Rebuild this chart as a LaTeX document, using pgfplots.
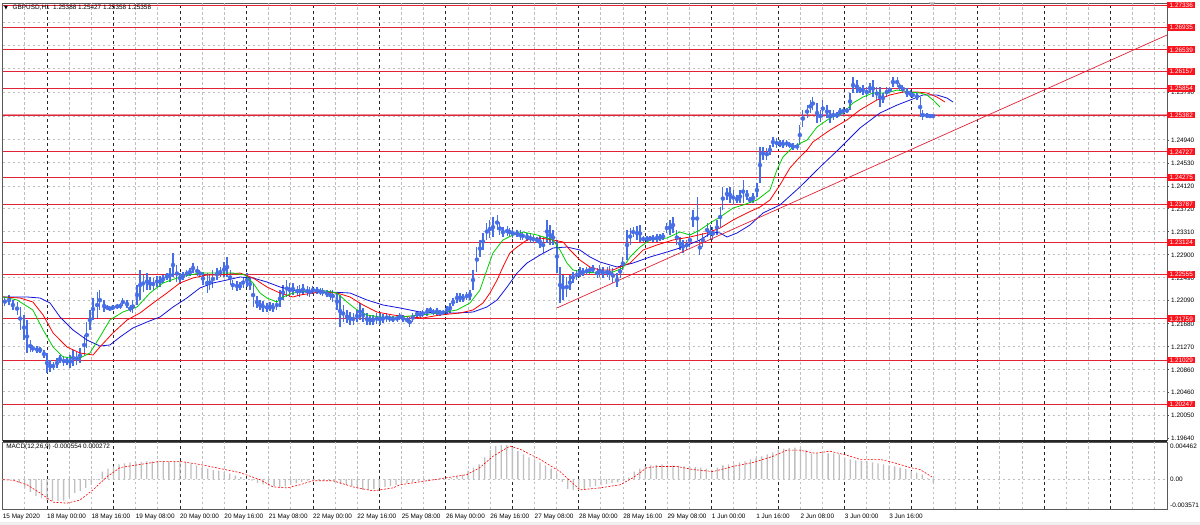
\documentclass[border=0pt]{standalone}
\usepackage{pgfplots}
\usepackage{pgfplotstable}
\pgfplotsset{compat=1.18}
\usepackage{fontspec}
\setmainfont{Liberation Sans}
\newfontfamily\dejavu{DejaVu Sans}
\newcommand\lbl{\fontsize{6.4}{7}\selectfont}
\definecolor{cndl}{RGB}{70,110,230}
\definecolor{lips}{RGB}{0,205,0}
\definecolor{teeth}{RGB}{255,0,0}
\definecolor{jaw}{RGB}{20,20,220}
\definecolor{hl}{RGB}{225,35,55}
\definecolor{lblred}{RGB}{250,20,30}
\definecolor{bidl}{RGB}{238,140,150}
\tikzset{
  gridg/.style={draw=gray!50, line width=1pt, dash pattern=on 2.5pt off 2.5pt},
  gridk/.style={draw=black!85, line width=0.8pt, dash pattern=on 3pt off 3pt},
}

\pgfplotstableread{
b hi lo
-15.2 1.22148 1.21988
-13.7 1.22183 1.22006
-12.3 1.22095 1.21917
-10.8 1.22059 1.21828
-9.7 1.21970 1.21562
-8.3 1.21828 1.21384
-7.2 1.21739 1.21153
-6.1 1.21384 1.21171
-5.1 1.21295 1.21171
-3.6 1.21277 1.21153
-2.5 1.21260 1.21153
-1.1 1.21206 1.21064
0 1.21153 1.20798
1.1 1.21029 1.20815
2.2 1.20993 1.20851
3.6 1.21064 1.20886
4.7 1.21117 1.20975
6.1 1.21100 1.20922
7.2 1.21082 1.20940
8.3 1.21117 1.20886
9.4 1.21206 1.20922
10.8 1.21171 1.20940
11.9 1.21242 1.20975
13.4 1.21473 1.21117
14.4 1.21704 1.21242
15.5 1.21917 1.21562
16.6 1.22130 1.21739
18.1 1.22237 1.21775
19.1 1.22272 1.21917
20.6 1.22095 1.21881
21.7 1.22006 1.21917
22.7 1.21988 1.21899
23.8 1.22006 1.21917
25.3 1.22024 1.21935
26.4 1.22041 1.21935
27.4 1.22130 1.21988
28.9 1.22095 1.21953
30.0 1.22006 1.21881
31.0 1.22095 1.21864
32.5 1.22361 1.22006
33.6 1.22628 1.22095
34.7 1.22539 1.22237
36.1 1.22574 1.22272
37.2 1.22503 1.22272
38.3 1.22486 1.22272
39.7 1.22521 1.22326
40.8 1.22521 1.22326
41.9 1.22539 1.22397
43.3 1.22574 1.22450
44.4 1.22663 1.22414
45.5 1.22930 1.22503
46.9 1.22717 1.22414
48.0 1.22574 1.22397
49.1 1.22592 1.22450
50.5 1.22628 1.22503
51.6 1.22663 1.22521
52.7 1.22752 1.22574
54.2 1.22699 1.22521
55.2 1.22628 1.22503
56.3 1.22592 1.22361
57.8 1.22574 1.22219
58.8 1.22539 1.22272
59.9 1.22628 1.22308
61.4 1.22663 1.22450
62.5 1.22681 1.22503
63.9 1.22770 1.22503
65.0 1.22859 1.22503
66.1 1.22628 1.22361
67.1 1.22450 1.22272
68.6 1.22432 1.22255
69.7 1.22414 1.22272
70.8 1.22503 1.22308
72.2 1.22574 1.22326
73.3 1.22486 1.22272
74.4 1.22397 1.21970
75.8 1.22166 1.21953
76.9 1.22095 1.21917
78.0 1.22077 1.21881
79.4 1.22041 1.21881
80.5 1.22059 1.21899
81.6 1.22041 1.21881
83.0 1.22095 1.21917
84.1 1.22272 1.21970
85.2 1.22361 1.22095
86.6 1.22450 1.22148
87.7 1.22397 1.22148
88.8 1.22397 1.22183
90.3 1.22343 1.22166
91.3 1.22361 1.22148
92.4 1.22379 1.22183
93.9 1.22343 1.22166
94.9 1.22326 1.22148
96.0 1.22343 1.22201
97.5 1.22326 1.22201
98.6 1.22308 1.22183
99.6 1.22308 1.22166
101.1 1.22272 1.22148
102.2 1.22272 1.22095
103.2 1.22272 1.22059
104.7 1.22219 1.21917
105.8 1.22183 1.21615
106.9 1.22006 1.21704
108.3 1.21917 1.21686
109.4 1.21881 1.21650
110.5 1.21864 1.21650
111.9 1.21917 1.21704
113.0 1.22041 1.21739
114.1 1.21953 1.21704
115.5 1.21864 1.21650
116.6 1.21828 1.21650
117.7 1.21828 1.21650
119.1 1.21864 1.21668
120.2 1.21864 1.21650
121.3 1.21846 1.21686
122.7 1.21864 1.21704
123.8 1.21828 1.21704
124.9 1.21810 1.21704
126.4 1.21828 1.21704
127.4 1.21864 1.21739
128.5 1.21828 1.21704
130.0 1.21793 1.21686
131.0 1.21793 1.21615
132.1 1.21864 1.21704
133.6 1.21899 1.21793
134.7 1.21899 1.21775
135.7 1.21917 1.21793
137.2 1.21953 1.21810
138.3 1.21970 1.21864
139.4 1.21935 1.21828
140.8 1.21953 1.21828
141.9 1.21917 1.21810
143.0 1.21917 1.21828
144.4 1.21988 1.21846
145.5 1.22041 1.21864
146.6 1.22130 1.21988
148.0 1.22219 1.22041
149.1 1.22219 1.22059
150.2 1.22201 1.22059
151.6 1.22237 1.22095
152.7 1.22272 1.22095
153.8 1.22628 1.22272
155.2 1.23036 1.22592
156.3 1.23161 1.22859
157.4 1.23285 1.22983
158.8 1.23463 1.23161
159.9 1.23516 1.23196
161.0 1.23569 1.23214
162.5 1.23605 1.23338
163.5 1.23481 1.23250
164.6 1.23392 1.23214
166.1 1.23409 1.23232
167.1 1.23374 1.23232
168.2 1.23356 1.23196
169.7 1.23338 1.23214
170.8 1.23338 1.23161
171.8 1.23303 1.23161
173.3 1.23285 1.23143
174.4 1.23285 1.23107
175.5 1.23250 1.23107
176.9 1.23214 1.23107
178.0 1.23232 1.23019
179.1 1.23214 1.22930
180.5 1.23516 1.23107
181.6 1.23427 1.23072
182.7 1.23338 1.23072
184.1 1.23161 1.22574
185.2 1.22681 1.22041
186.3 1.22539 1.22095
187.7 1.22503 1.22148
188.8 1.22539 1.22272
189.9 1.22592 1.22397
191.3 1.22628 1.22450
192.4 1.22681 1.22503
193.5 1.22663 1.22521
194.9 1.22681 1.22539
196.0 1.22699 1.22557
197.1 1.22717 1.22574
198.6 1.22663 1.22486
199.6 1.22717 1.22503
200.7 1.22681 1.22486
202.2 1.22681 1.22503
203.2 1.22699 1.22450
204.3 1.22663 1.22397
205.8 1.22574 1.22326
206.9 1.22717 1.22486
207.9 1.22859 1.22628
209.4 1.23338 1.22805
210.5 1.23374 1.23072
211.6 1.23392 1.23214
213.0 1.23409 1.23161
214.1 1.23427 1.23125
215.2 1.23232 1.23125
216.6 1.23232 1.23125
217.7 1.23232 1.23143
218.8 1.23250 1.23125
220.2 1.23267 1.23125
221.3 1.23267 1.23143
222.4 1.23285 1.23161
223.8 1.23463 1.23285
224.9 1.23516 1.23250
226.0 1.23569 1.23285
227.4 1.23338 1.23072
228.5 1.23214 1.22983
229.6 1.23161 1.22930
231.0 1.23161 1.22983
232.1 1.23285 1.23036
233.2 1.23694 1.23392
234.7 1.23925 1.23161
235.7 1.23161 1.22894
236.8 1.23285 1.23036
238.3 1.23463 1.23214
239.4 1.23427 1.23161
240.4 1.23392 1.23161
241.9 1.23516 1.23250
243.0 1.23747 1.23392
244.0 1.24102 1.23694
245.5 1.24085 1.23871
246.6 1.24102 1.23818
247.7 1.24049 1.23783
249.1 1.23960 1.23818
250.2 1.24049 1.23818
251.3 1.24227 1.23818
252.7 1.24049 1.23871
253.8 1.23925 1.23818
254.9 1.23996 1.23818
256.3 1.24173 1.23925
257.4 1.24813 1.24173
258.5 1.24813 1.24582
259.9 1.24795 1.24582
261.0 1.24849 1.24671
262.1 1.24991 1.24813
263.5 1.24973 1.24795
264.6 1.24937 1.24813
265.7 1.24937 1.24795
267.1 1.24937 1.24813
268.2 1.24902 1.24795
269.3 1.24884 1.24760
270.8 1.24884 1.24760
271.8 1.25204 1.24849
272.9 1.25471 1.25168
274.4 1.25559 1.25328
275.5 1.25648 1.25417
276.5 1.25701 1.25471
278.0 1.25595 1.25240
279.1 1.25471 1.25257
280.1 1.25648 1.25346
281.6 1.25559 1.25328
282.7 1.25471 1.25240
283.8 1.25471 1.25293
285.2 1.25435 1.25328
286.3 1.25506 1.25364
287.4 1.25524 1.25382
288.8 1.25506 1.25417
289.9 1.25773 1.25471
291.0 1.26057 1.25773
292.4 1.26004 1.25773
293.5 1.25879 1.25773
294.6 1.25915 1.25737
296.0 1.25879 1.25701
297.1 1.25950 1.25773
298.2 1.26004 1.25701
299.6 1.25879 1.25648
300.7 1.25879 1.25524
301.8 1.25773 1.25595
303.2 1.25879 1.25701
304.3 1.25879 1.25773
305.4 1.26057 1.25879
306.9 1.26057 1.25879
307.9 1.25950 1.25826
309.0 1.25915 1.25773
310.5 1.25861 1.25701
311.6 1.25826 1.25701
312.6 1.25790 1.25684
314.1 1.25773 1.25648
315.2 1.25701 1.25346
316.2 1.25471 1.25293
317.7 1.25417 1.25328
318.8 1.25399 1.25328
319.9 1.25382 1.25346
}\candles

\pgfplotsset{
  tgrid/.style={
    xmin=-16, xmax=404.33, scale only axis, width=1164.32pt,
    xtick=\empty,
    tick align=outside, major tick length=2pt,
    axis line style={draw=gray!70!black, line width=0.6pt},
    tick label style={font=\lbl},
    clip=false,
  }
}

\begin{document}
\begin{tikzpicture}[x=1pt,y=1pt]
\useasboundingbox (0,0) rectangle (1200,525);
\fill[white] (0,0) rectangle (1200,525);
\fill[gray!12] (0,0) rectangle (1200,2.5);

% ---------------- main price panel ----------------
\begin{axis}[tgrid,
  at={(2.68pt,85pt)}, anchor=south west, height=437pt,
  ymin=1.19607, ymax=1.27372,
  ytick={1.1964,1.2005,1.2046,1.2086,1.2127,1.2168,1.2209,1.2249,1.229,1.2331,1.2372,1.2412,1.2453,1.2494,1.2579},
  yticklabels={1.19640,1.20050,1.20460,1.20860,1.21270,1.21680,1.22090,1.22490,1.22900,1.23310,1.23720,1.24120,1.24530,1.24940,1.25790},
  yticklabel pos=right, ytick pos=right,
  ytick style={draw=gray!60!black, line width=0.5pt},
  yticklabel style={inner sep=1pt, xshift=1pt, yshift=-0.5pt},
]
% grid
\pgfplotsinvokeforeach{1.2005,1.2046,1.2086,1.2127,1.2168,1.2209,1.2249,1.229,1.2331,1.2372,1.2412,1.2453,1.2494,1.2535,1.2579,1.262,1.2661,1.2702}{
  \draw[gridg] (axis cs:-16,#1) -- (axis cs:404.33,#1);
}
\pgfplotsinvokeforeach{-8,8,16,32,40,56,64,80,88,104,112,128,136,152,160,176,184,200,208,224,232,248,256,272,280,296,304,320,328,344,352,368,376,392,400}{
  \draw[gridg] (axis cs:#1,1.19607) -- (axis cs:#1,1.27372);
}
\pgfplotsinvokeforeach{0,24,48,72,96,120,144,168,192,216,240,264,288,312,336,360,384}{
  \draw[gridk] (axis cs:#1,1.19607) -- (axis cs:#1,1.27372);
}
% horizontal levels
\pgfplotsinvokeforeach{1.27336,1.26935,1.26539,1.26157,1.25854,1.24727,1.24275,1.23787,1.23124,1.22555,1.21759,1.21029,1.20247}{
  \addplot[hl, line width=0.8pt] coordinates {(-16,#1) (404.33,#1)};
}
\addplot[bidl, line width=2.2pt] coordinates {(-16,1.25382) (404.33,1.25382)};
\addplot[hl, line width=0.6pt] coordinates {(-16,1.25382) (404.33,1.25382)};

\addplot[cndl, only marks, mark=none, error bars/.cd, y dir=both, y explicit, error mark=none,
  error bar style={line width=1.15pt, cndl}]
  table[x=b, y expr={(\thisrow{hi}+\thisrow{lo})/2}, y error expr={(\thisrow{hi}-\thisrow{lo})/2}] {\candles};

% Alligator lines
\addplot[jaw, line width=0.8pt] coordinates {
(-15.9,1.22148) (-7.2,1.22148) (-2.5,1.22130) (1.1,1.22041) (4.7,1.21793) (9.4,1.21562) (14.4,1.21384) (19.1,1.21277) (22.7,1.21295) (26.4,1.21438) (31.0,1.21597) (36.1,1.21704) (40.8,1.21793) (45.5,1.21970) (50.5,1.22130) (55.2,1.22308) (59.9,1.22397) (65.0,1.22450) (69.7,1.22503) (74.4,1.22486) (79.4,1.22414) (84.1,1.22326) (88.8,1.22272) (91.3,1.22237) (102.2,1.22237) (109.4,1.22219) (115.5,1.22095) (121.3,1.22006) (127.4,1.21953) (134.7,1.21881) (141.9,1.21864) (148.0,1.21864) (153.8,1.21881) (158.8,1.21970) (162.5,1.22095) (166.1,1.22326) (169.7,1.22574) (173.3,1.22752) (178.0,1.22894) (182.7,1.23019) (187.7,1.23036) (192.4,1.22983) (196.0,1.22859) (199.6,1.22770) (205.8,1.22681) (211.6,1.22752) (217.7,1.22859) (223.8,1.22947) (229.6,1.23036) (235.7,1.23161) (240.4,1.23303) (243.0,1.23285) (245.5,1.23214) (249.1,1.23285) (253.8,1.23427) (258.5,1.23641) (264.6,1.23783) (271.8,1.24102) (279.1,1.24458) (286.3,1.24795) (293.5,1.25151) (300.7,1.25417) (306.9,1.25559) (311.6,1.25648) (316.2,1.25737) (321.3,1.25737) (324.9,1.25684) (327.1,1.25612)};
\addplot[teeth, line width=0.8pt] coordinates {
(-15.9,1.22148) (-9.7,1.22130) (-5.1,1.22059) (-1.4,1.21828) (2.2,1.21509) (7.2,1.21260) (11.9,1.21153) (16.6,1.21117) (19.1,1.21260) (23.8,1.21509) (28.9,1.21739) (33.6,1.21864) (38.3,1.22041) (43.3,1.22219) (48.0,1.22397) (52.7,1.22486) (57.8,1.22539) (62.5,1.22539) (69.7,1.22574) (74.4,1.22486) (79.4,1.22326) (84.1,1.22219) (88.8,1.22148) (91.3,1.22183) (98.6,1.22237) (104.7,1.22219) (109.4,1.22148) (114.1,1.22006) (119.1,1.21881) (124.9,1.21828) (131.0,1.21793) (135.7,1.21775) (141.9,1.21828) (149.1,1.21864) (153.8,1.21917) (157.4,1.22041) (159.9,1.22219) (162.5,1.22450) (164.6,1.22681) (167.1,1.22930) (169.7,1.23036) (173.3,1.23161) (178.0,1.23196) (182.7,1.23161) (186.3,1.23125) (188.8,1.22983) (192.4,1.22805) (196.0,1.22681) (199.6,1.22628) (204.3,1.22628) (210.5,1.22752) (215.2,1.22983) (220.2,1.23072) (226.0,1.23161) (232.1,1.23214) (238.3,1.23285) (243.0,1.23374) (247.7,1.23516) (252.7,1.23641) (257.4,1.23747) (261.0,1.23871) (264.6,1.24138) (268.2,1.24440) (271.8,1.24636) (274.4,1.24760) (276.5,1.24902) (282.7,1.25115) (288.8,1.25293) (293.5,1.25471) (299.6,1.25648) (304.3,1.25737) (309.0,1.25790) (314.1,1.25790) (317.7,1.25773) (321.3,1.25701) (324.2,1.25612)};
\addplot[lips, line width=0.8pt] coordinates {
(-15.9,1.22148) (-10.8,1.22095) (-5.1,1.21917) (-1.4,1.21562) (2.2,1.21260) (5.8,1.21082) (11.9,1.21064) (15.5,1.21153) (19.1,1.21438) (22.7,1.21739) (27.4,1.21881) (32.5,1.21970) (37.2,1.22219) (41.9,1.22397) (48.0,1.22503) (55.2,1.22574) (61.4,1.22574) (67.1,1.22574) (71.5,1.22539) (74.4,1.22397) (76.9,1.22219) (79.4,1.22130) (83.0,1.22059) (85.2,1.22148) (88.8,1.22219) (91.3,1.22237) (98.6,1.22272) (104.7,1.22219) (108.3,1.22059) (111.9,1.21917) (115.5,1.21828) (120.2,1.21793) (127.4,1.21793) (134.7,1.21828) (141.9,1.21864) (148.0,1.21917) (152.7,1.22041) (156.3,1.22272) (158.8,1.22628) (161.0,1.22930) (164.6,1.23161) (168.2,1.23250) (171.8,1.23303) (176.9,1.23250) (180.5,1.23196) (182.7,1.23161) (185.2,1.22983) (187.7,1.22752) (189.9,1.22628) (193.5,1.22592) (198.6,1.22574) (204.3,1.22592) (207.9,1.22663) (210.5,1.22859) (214.1,1.23036) (217.7,1.23161) (223.8,1.23196) (228.5,1.23303) (232.1,1.23250) (235.7,1.23338) (239.4,1.23463) (243.0,1.23569) (247.7,1.23729) (251.3,1.23783) (256.3,1.23871) (261.0,1.24049) (263.5,1.24404) (265.7,1.24636) (269.3,1.24813) (274.4,1.24937) (278.0,1.25168) (282.7,1.25328) (287.4,1.25417) (291.0,1.25595) (294.6,1.25701) (298.2,1.25773) (303.2,1.25773) (306.9,1.25826) (311.6,1.25790) (315.2,1.25773) (317.7,1.25737) (319.9,1.25648) (322.4,1.25524)};

% trend line
\addplot[hl, line width=0.7pt] coordinates {(184.1,1.21953) (404.33,1.26803)};
\end{axis}

% overlay axis: red price labels on top of the scale
\begin{axis}[at={(2.68pt,85pt)}, anchor=south west, scale only axis,
  width=1164.32pt, height=437pt, xmin=-16, xmax=404.33, ymin=1.19607, ymax=1.27372,
  hide axis, clip=false]
\pgfplotsinvokeforeach{1.27336,1.26935,1.26539,1.26157,1.25854,1.25382,1.24727,1.24275,1.23787,1.23124,1.22555,1.21759,1.21029,1.20247}{
  \node[fill=lblred, text=white, font=\lbl, inner xsep=2.5pt, inner ysep=1.2pt, anchor=west] at (axis cs:404.33,#1) {#1};
}
\end{axis}

% ---------------- MACD panel ----------------
\begin{axis}[tgrid,
  at={(2.68pt,16pt)}, anchor=south west, height=67pt,
  ymin=-0.003571, ymax=0.004462,
  ytick=\empty,
  extra x ticks={-16,0,16,32,48,64,80,96,112,128,144,160,176,192,208,224,240,256,272,288,304},
  extra x tick labels={15 May 2020,18 May 00:00,18 May 16:00,19 May 08:00,20 May 00:00,20 May 16:00,21 May 08:00,22 May 00:00,22 May 16:00,25 May 08:00,26 May 00:00,26 May 16:00,27 May 08:00,28 May 00:00,28 May 16:00,29 May 08:00,1 Jun 00:00,1 Jun 16:00,2 Jun 08:00,3 Jun 00:00,3 Jun 16:00},
  extra x tick style={grid=none, tick style={draw=none}, tick label style={anchor=north west, inner sep=0.5pt, yshift=-2.5pt, xshift=-0.5pt}},
]
\pgfplotsinvokeforeach{-8,8,16,32,40,56,64,80,88,104,112,128,136,152,160,176,184,200,208,224,232,248,256,272,280,296,304,320,328,344,352,368,376,392,400}{
  \draw[gridg] (axis cs:#1,-0.003571) -- (axis cs:#1,0.004462);
}
\pgfplotsinvokeforeach{0,24,48,72,96,120,144,168,192,216,240,264,288,312,336,360,384}{
  \draw[gridk] (axis cs:#1,-0.003571) -- (axis cs:#1,0.004462);
}
\draw[gridg] (axis cs:-16,0) -- (axis cs:404.33,0);
\addplot[ybar, bar width=1.3pt, fill=gray!50, draw=none] coordinates {
(-16,-0.00006) (-14,-0.00006) (-12,-0.00006) (-10,-0.00043) (-8,-0.00104) (-6,-0.00153) (-4,-0.00201) (-2,-0.00226) (0,-0.00250) (2,-0.00262) (4,-0.00262) (6,-0.00256) (8,-0.00214) (10,-0.00165) (12,-0.00140) (14,-0.00104) (16,-0.00067) (18,-0.00006) (20,0.00092) (22,0.00128) (24,0.00153) (26,0.00177) (28,0.00189) (30,0.00201) (32,0.00201) (34,0.00207) (36,0.00214) (38,0.00214) (40,0.00214) (42,0.00214) (44,0.00214) (46,0.00214) (48,0.00214) (50,0.00201) (52,0.00189) (54,0.00165) (56,0.00140) (58,0.00128) (60,0.00110) (62,0.00104) (64,0.00085) (66,0.00067) (68,0.00043) (70,0.00024) (72,0.00006) (74,-0.00018) (76,-0.00043) (78,-0.00061) (80,-0.00073) (82,-0.00079) (84,-0.00092) (86,-0.00085) (88,-0.00067) (90,-0.00049) (92,-0.00031) (94,-0.00018) (96,-0.00006) (98,-0.00012) (100,-0.00018) (102,-0.00024) (104,-0.00037) (106,-0.00055) (108,-0.00067) (110,-0.00079) (112,-0.00104) (114,-0.00128) (116,-0.00128) (118,-0.00116) (120,-0.00104) (122,-0.00092) (124,-0.00079) (126,-0.00067) (128,-0.00055) (130,-0.00043) (132,-0.00031) (134,-0.00024) (136,-0.00018) (138,-0.00012) (140,-0.00006) (142,0.00000) (144,0.00006) (146,0.00012) (148,0.00031) (150,0.00055) (152,0.00104) (154,0.00140) (156,0.00177) (158,0.00262) (160,0.00348) (162,0.00397) (164,0.00409) (166,0.00409) (168,0.00384) (170,0.00336) (172,0.00299) (174,0.00262) (176,0.00238) (178,0.00201) (180,0.00165) (182,0.00128) (184,0.00067) (186,-0.00031) (188,-0.00116) (190,-0.00128) (192,-0.00128) (194,-0.00116) (196,-0.00092) (198,-0.00079) (200,-0.00067) (202,-0.00055) (204,-0.00043) (206,-0.00037) (208,-0.00024) (210,0.00018) (212,0.00092) (214,0.00128) (216,0.00153) (218,0.00165) (220,0.00171) (222,0.00177) (224,0.00165) (226,0.00165) (228,0.00159) (230,0.00153) (232,0.00153) (234,0.00146) (236,0.00140) (238,0.00128) (240,0.00116) (242,0.00140) (244,0.00165) (246,0.00177) (248,0.00177) (250,0.00201) (252,0.00214) (254,0.00238) (256,0.00256) (258,0.00275) (260,0.00299) (262,0.00323) (264,0.00354) (266,0.00366) (268,0.00372) (270,0.00378) (272,0.00384) (274,0.00348) (276,0.00311) (278,0.00311) (280,0.00311) (282,0.00311) (284,0.00311) (286,0.00299) (288,0.00262) (290,0.00238) (292,0.00226) (294,0.00220) (296,0.00214) (298,0.00201) (300,0.00189) (302,0.00177) (304,0.00165) (306,0.00153) (308,0.00140) (310,0.00122) (312,0.00098) (314,0.00079) (316,0.00055) (318,0.00010) (320,-0.00050)};
\addplot[teeth, line width=0.6pt, dash pattern=on 2pt off 1.5pt] coordinates {
(-15.9,-0.00006) (-12.3,-0.00012) (-7.2,-0.00067) (-2.5,-0.00165) (2.2,-0.00275) (7.2,-0.00287) (11.9,-0.00250) (16.6,-0.00128) (21.7,0.00031) (26.4,0.00140) (33.6,0.00177) (40.8,0.00214) (48.0,0.00214) (55.2,0.00177) (62.5,0.00128) (69.7,0.00079) (76.9,-0.00006) (81.6,-0.00092) (86.6,-0.00104) (91.3,-0.00067) (96.0,-0.00018) (103.2,-0.00018) (110.5,-0.00092) (117.7,-0.00140) (124.9,-0.00104) (127.4,-0.00067) (134.7,-0.00031) (144.4,0.00018) (151.6,0.00055) (156.3,0.00140) (161.0,0.00275) (167.1,0.00397) (170.8,0.00360) (178.0,0.00238) (185.2,0.00092) (192.4,-0.00128) (199.6,-0.00104) (206.9,-0.00067) (211.6,0.00018) (216.6,0.00140) (221.3,0.00153) (227.4,0.00153) (233.2,0.00116) (240.4,0.00092) (247.7,0.00153) (254.9,0.00201) (262.1,0.00275) (267.1,0.00348) (271.8,0.00348) (277.3,0.00311) (282.7,0.00336) (288.8,0.00287) (293.5,0.00238) (300.7,0.00238) (305.4,0.00201) (311.6,0.00140) (315.2,0.00116) (319.5,0.00027)};
\node[anchor=west, font=\lbl, inner sep=0pt] at (rel axis cs:1,1) [xshift=3pt, yshift=-4.5pt] {0.004462};
\node[anchor=west, font=\lbl, inner sep=0pt] at (axis cs:404.33,0) [xshift=3pt] {0.00};
\node[anchor=west, font=\lbl, inner sep=0pt] at (rel axis cs:1,0) [xshift=3pt, yshift=3.5pt] {-0.003571};
\node[anchor=west, font=\lbl, inner sep=0pt] at (rel axis cs:0,1) [xshift=3.5pt, yshift=-5pt] {MACD(12,26,9) -0.000554 0.000272};
\end{axis}

% panel separator and header
\fill[gray!30!black] (2.68,83) rectangle (1167,85);
\node[anchor=west, inner sep=0pt] at (4,517) {\dejavu\fontsize{5}{6}\selectfont ▼};
\node[anchor=west, font=\lbl, inner sep=0pt] at (12.5,517) {GBPUSD,H1\ \ 1.25388 1.25427 1.25358 1.25358};
\fill[gray!60] (929,522.5) -- (935,522.5) -- (932,519) -- cycle;
\end{tikzpicture}
\end{document}
